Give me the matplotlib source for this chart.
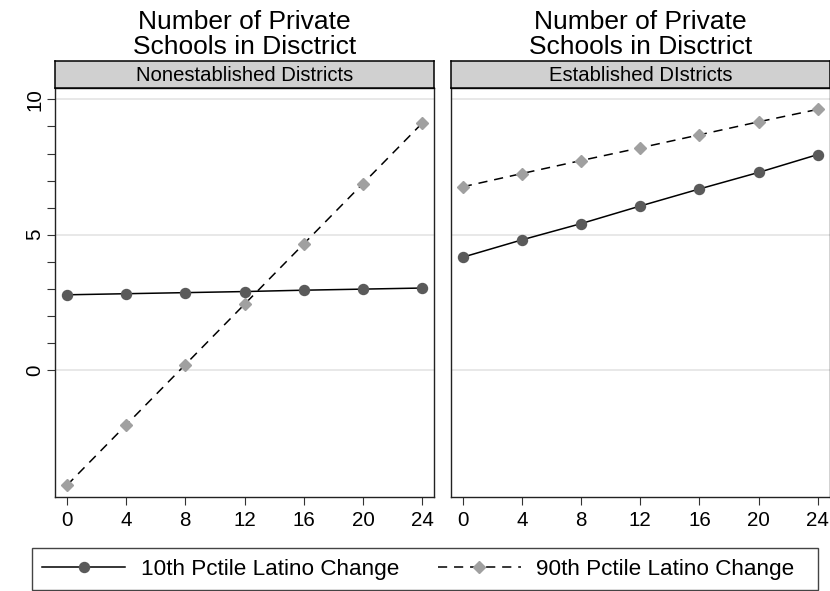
import matplotlib
matplotlib.use("Agg")
import matplotlib.pyplot as plt
from matplotlib.patches import Rectangle
import numpy as np

plt.rcParams['font.family'] = ['Liberation Sans', 'DejaVu Sans']

# data
x_vals = [0, 4, 8, 12, 16, 20, 24]
panels = ["Nonestablished Districts", "Established DIstricts"]
p10_non = [2.78, 2.82, 2.86, 2.90, 2.95, 2.99, 3.03]
p90_non = [-4.26, -2.03, 0.20, 2.43, 4.66, 6.89, 9.12]
p10_est = [4.17, 4.81, 5.41, 6.06, 6.69, 7.30, 7.96]
p90_est = [6.77, 7.26, 7.74, 8.21, 8.69, 9.17, 9.63]
title_txt = "Number of Private\nSchools in Disctrict"
label10 = "10th Pctile Latino Change"
label90 = "90th Pctile Latino Change"
yticks_major = [0, 5, 10]
yticks_minor = [1, 2, 3, 4, 6, 7, 8, 9]

W, H = 830, 591
fig = plt.figure(figsize=(W / 100, H / 100), dpi=100)


def px(x0, y0, x1, y1):
    # pixel box (top-left origin) -> figure fraction
    return [x0 / W, 1 - y1 / H, (x1 - x0) / W, (y1 - y0) / H]


boxes = [(55, 434), (451, 829.5)]
series = [(p10_non, p90_non), (p10_est, p90_est)]
handles = None
for i, ((xl, xr), (s10, s90)) in enumerate(zip(boxes, series)):
    ax = fig.add_axes(px(xl, 88, xr, 497))
    ax.set_xlim(-0.8, 24.8)
    ax.set_ylim(-4.69, 10.42)
    for g in yticks_major:
        ax.axhline(g, color='#e2e2e2', lw=1.1, zorder=0)
    l1, = ax.plot(x_vals, s10, color='black', lw=1.1, marker='o', ms=7.2,
                  mfc='#5a5a5a', mec='#5a5a5a', label=label10, zorder=3)
    l2, = ax.plot(x_vals, s90, color='black', lw=1.1, marker='D', ms=6.5,
                  mfc='#a0a0a0', mec='#a0a0a0', label=label90, zorder=3)
    l2.set_dashes([6, 4.5])
    handles = [l1, l2]
    for sp in ax.spines.values():
        sp.set_color('#222222')
        sp.set_linewidth(1.0)
    ax.set_xticks(x_vals)
    ax.tick_params(axis='x', direction='out', length=6, width=0.8,
                   labelsize=14.8, pad=4, color='#333333')
    if i == 0:
        ax.set_yticks(yticks_major)
        ax.set_yticks(yticks_minor, minor=True)
        ax.tick_params(axis='y', which='both', direction='out', length=5.8,
                       width=0.8, labelsize=14.8, pad=2, color='#333333')
        for t in ax.get_yticklabels():
            t.set_rotation(90)
            t.set_va('center')
    else:
        ax.set_yticks([])

    # strip
    sx = fig.add_axes(px(xl, 61, xr, 88))
    sx.set_facecolor('#d0d0d0')
    sx.set_xticks([])
    sx.set_yticks([])
    for sp in sx.spines.values():
        sp.set_color('black')
        sp.set_linewidth(1.1)
    sx.text(0.5, 0.48, panels[i], ha='center', va='center', fontsize=14.6,
            transform=sx.transAxes)

    # panel title
    cx = (xl + xr) / 2
    fig.text(cx / W, 1 - 59 / H, title_txt, ha='center', va='bottom',
             fontsize=19, linespacing=1.05)

leg = fig.legend(handles=handles, loc='center left', ncol=2,
                 bbox_to_anchor=(42 / W, 1 - 569 / H), fontsize=16.2,
                 frameon=False, handlelength=3.7, handletextpad=0.68,
                 columnspacing=1.73, borderpad=0, borderaxespad=0)
fig.patches.append(Rectangle((32 / W, 1 - 590 / H), (818 - 32) / W, 42 / H,
                             transform=fig.transFigure, fill=False,
                             ec='#444444', lw=1.0))

fig.savefig("out.png", dpi=100)
